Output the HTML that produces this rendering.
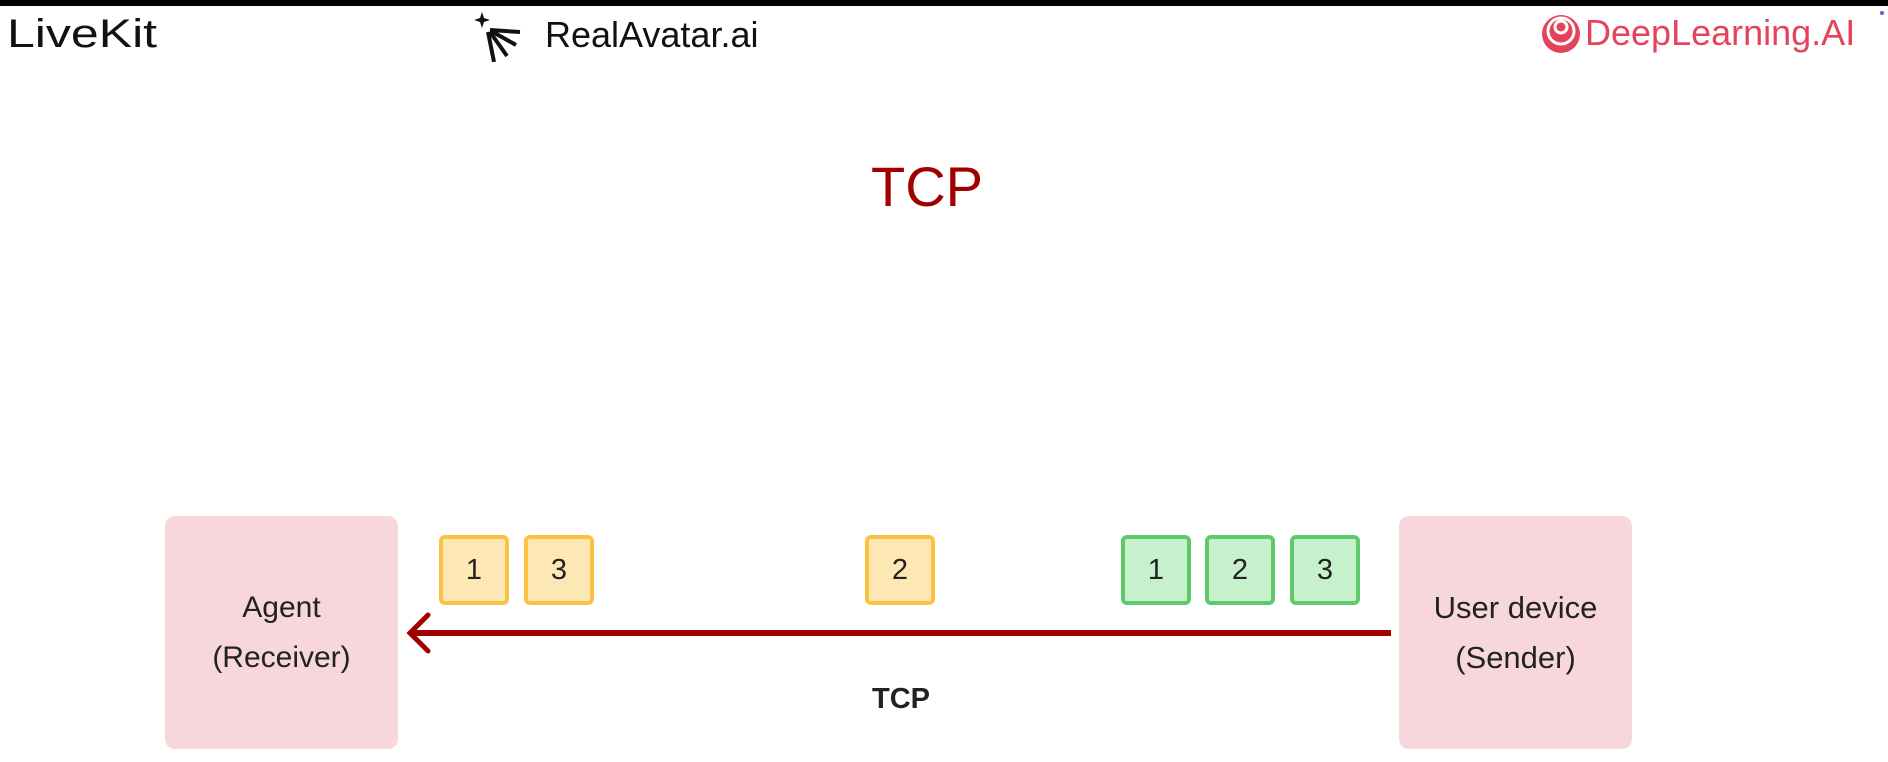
<!DOCTYPE html>
<html><head><meta charset="utf-8"><style>
body{margin:0;width:1888px;height:762px;background:#fff;position:relative;overflow:hidden;font-family:"Liberation Sans",sans-serif}
.a{position:absolute}
.box{position:absolute;background:#f8d7dc;border-radius:10px;width:233px;height:233px;top:516px;display:flex;align-items:center;justify-content:center;text-align:center;font-size:30px;line-height:50px;color:#222}
.sq{position:absolute;top:535px;width:62px;height:62px;border-radius:6px;display:flex;align-items:center;justify-content:center;font-size:29px;color:#222}
.y{background:#fde7b5;border:4px solid #fbc241}
.g{background:#c7f0cc;border:4px solid #5fca6b}
</style></head><body>
<div class="a" style="left:0;top:0;width:1888px;height:6px;background:#000"></div>
<div class="a" style="left:7px;top:12px;font-size:40px;color:#111;transform:scaleX(1.25);transform-origin:0 0">LiveKit</div>
<svg class="a" style="left:474px;top:10px" width="60" height="52" viewBox="0 0 60 52">
<path d="M8 2 L10 8 L16 10 L10 12 L8 18 L6 12 L0 10 L6 8Z" fill="#111"/>
<g stroke="#111" stroke-width="4" fill="none"><path d="M14 22 L20 52"/><path d="M16 22 L33 46"/><path d="M17 21 L42 35"/><path d="M16 20 L46 22"/></g></svg>
<div class="a" style="left:545px;top:14px;font-size:36px;color:#111">RealAvatar.ai</div>
<svg class="a" style="left:1541px;top:14px" width="40" height="40" viewBox="0 0 40 40">
<circle cx="20" cy="20" r="19" fill="#e5435a"/><circle cx="20" cy="17" r="13" fill="none" stroke="#fff" stroke-width="3"/><circle cx="20" cy="13" r="6" fill="none" stroke="#fff" stroke-width="3"/></svg>
<div class="a" style="left:1585px;top:12px;font-size:36px;color:#e5435a">DeepLearning.AI</div>
<div class="a" style="left:1880px;top:11px;width:4px;height:4px;border-radius:2px;background:#5566dd"></div>
<div class="a" style="left:827px;top:154px;width:200px;text-align:center;font-size:56px;color:#a00000">TCP</div>
<div class="box" style="left:165px">Agent<br>(Receiver)</div>
<div class="box" style="left:1399px;font-size:31px">User device<br>(Sender)</div>
<div class="sq y" style="left:439px">1</div>
<div class="sq y" style="left:524px">3</div>
<div class="sq y" style="left:865px">2</div>
<div class="sq g" style="left:1121px">1</div>
<div class="sq g" style="left:1205px">2</div>
<div class="sq g" style="left:1290px">3</div>
<svg class="a" style="left:0;top:0" width="1888" height="762">
<line x1="412" y1="633" x2="1391" y2="633" stroke="#a00000" stroke-width="6"/>
<path d="M428 615 L410 633 L428 651" fill="none" stroke="#a00000" stroke-width="5" stroke-linecap="round"/>
</svg>
<div class="a" style="left:801px;top:683px;width:200px;text-align:center;font-size:29px;font-weight:bold;color:#222">TCP</div>
</body></html>
